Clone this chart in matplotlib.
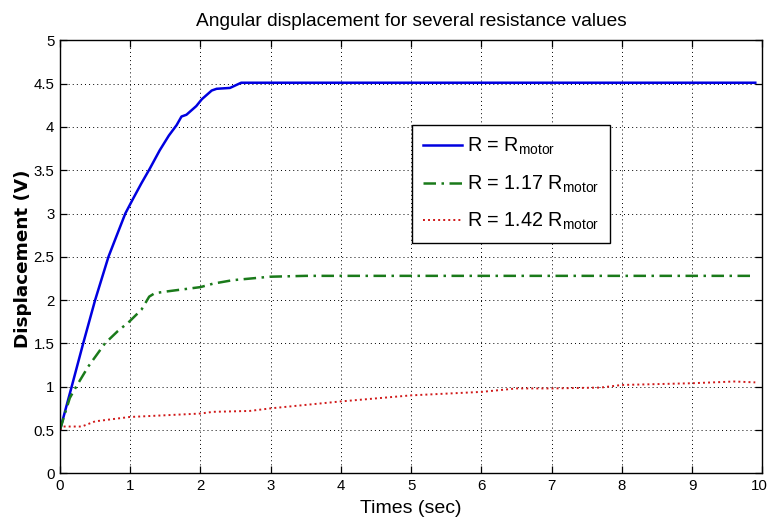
import matplotlib
matplotlib.use("Agg")
import matplotlib.pyplot as plt
from matplotlib.ticker import FixedLocator
from matplotlib.transforms import ScaledTranslation

# --- data -----------------------------------------------------------------
t_r1 = [0, 0.166, 0.33, 0.50, 0.69, 0.80, 0.93, 1.04, 1.16, 1.28, 1.42, 1.55, 1.66,
        1.73, 1.80, 1.94, 2.02, 2.09, 2.16, 2.23, 2.42, 2.50, 2.58, 3.0, 9.9]
y_r1 = [0.5, 1.0, 1.5, 2.0, 2.5, 2.73, 3.0, 3.17, 3.35, 3.52, 3.73, 3.90, 4.02,
        4.12, 4.14, 4.24, 4.32, 4.37, 4.42, 4.44, 4.45, 4.48, 4.51, 4.51, 4.51]

t_r117 = [0, 0.07, 0.14, 0.23, 0.40, 0.64, 0.82, 0.985, 1.16, 1.27, 1.35, 1.52,
          2.0, 2.18, 2.46, 2.99, 3.5, 9.9]
y_r117 = [0.5, 0.69, 0.87, 1.0, 1.23, 1.5, 1.64, 1.75, 1.89, 2.04, 2.08, 2.10,
          2.15, 2.19, 2.23, 2.27, 2.28, 2.28]

t_r142 = [0, 0.05, 0.31, 0.5, 0.99, 2.0, 2.18, 2.7, 3.0, 4.0, 5.0, 6.0, 6.5,
          7.0, 7.7, 8.0, 9.0, 9.6, 9.9]
y_r142 = [0.5, 0.54, 0.54, 0.60, 0.65, 0.69, 0.71, 0.72, 0.75, 0.83, 0.90, 0.94,
          0.98, 0.98, 0.99, 1.02, 1.04, 1.06, 1.05]

labels = [r"R = $\mathrm{R}_{\mathrm{motor}}$",
          r"R = 1.17 $\mathrm{R}_{\mathrm{motor}}$",
          r"R = 1.42 $\mathrm{R}_{\mathrm{motor}}$"]

x_ticks = list(range(0, 11))
y_ticks = [0, 0.5, 1, 1.5, 2, 2.5, 3, 3.5, 4, 4.5, 5]
y_tick_labels = ["0", "0.5", "1", "1.5", "2", "2.5", "3", "3.5", "4", "4.5", "5"]

# --- fonts ----------------------------------------------------------------
plt.rcParams["font.family"] = ["Liberation Sans", "DejaVu Sans"]
plt.rcParams["mathtext.fontset"] = "custom"
plt.rcParams["mathtext.rm"] = "Liberation Sans"
plt.rcParams["mathtext.it"] = "Liberation Sans:italic"
plt.rcParams["mathtext.bf"] = "Liberation Sans:bold"

# --- figure ---------------------------------------------------------------
W, H = 769, 521
fig = plt.figure(figsize=(W / 100, H / 100), dpi=100)
ax = fig.add_axes([60 / W, (H - 473.3) / H, 702.3 / W, 433 / H])

ax.plot(t_r1, y_r1, color="#0000e0", lw=1.8, ls="-", label=labels[0])
ax.plot(t_r117, y_r117, color="#1a7a1a", lw=1.8, ls=(0, (5, 2.2, 1, 2.2)), label=labels[1])
ax.plot(t_r142, y_r142, color="#d01818", lw=1.4, ls=(0, (1, 1.6)), label=labels[2])

ax.set_xlim(0, 10)
ax.set_ylim(0, 5)
ax.xaxis.set_major_locator(FixedLocator(x_ticks))
ax.yaxis.set_major_locator(FixedLocator(y_ticks))
ax.set_yticklabels(y_tick_labels)

ax.grid(True, color="black", lw=0.7, ls=(0, (1, 3.2)))
ax.tick_params(direction="in", length=5, width=0.9, top=True, right=True,
               labelsize=10.8, pad=4, colors="black")
for sp in ax.spines.values():
    sp.set_linewidth(1.0)
    sp.set_color("black")

# keep the last x tick label inside the canvas
last = ax.get_xticklabels()[-1]
last.set_transform(last.get_transform() + ScaledTranslation(-3 / 100, 0, fig.dpi_scale_trans))

ax.set_title("Angular displacement for several resistance values",
             fontsize=13.8, pad=10)
ax.set_xlabel("Times (sec)", fontsize=14, labelpad=5)
ax.set_ylabel("Displacement (V)", family="DejaVu Sans", fontweight="bold", fontsize=13.2)
ax.yaxis.set_label_coords(-0.04, 0.495)

leg = ax.legend(loc="upper left", bbox_to_anchor=(0.501, 0.804), borderaxespad=0,
                fontsize=14.2, handlelength=2.0, handletextpad=0.25, labelspacing=0.82,
                borderpad=0.55, fancybox=False, framealpha=1, edgecolor="black")
leg.get_frame().set_linewidth(1.0)

fig.savefig("out.png", dpi=100)
